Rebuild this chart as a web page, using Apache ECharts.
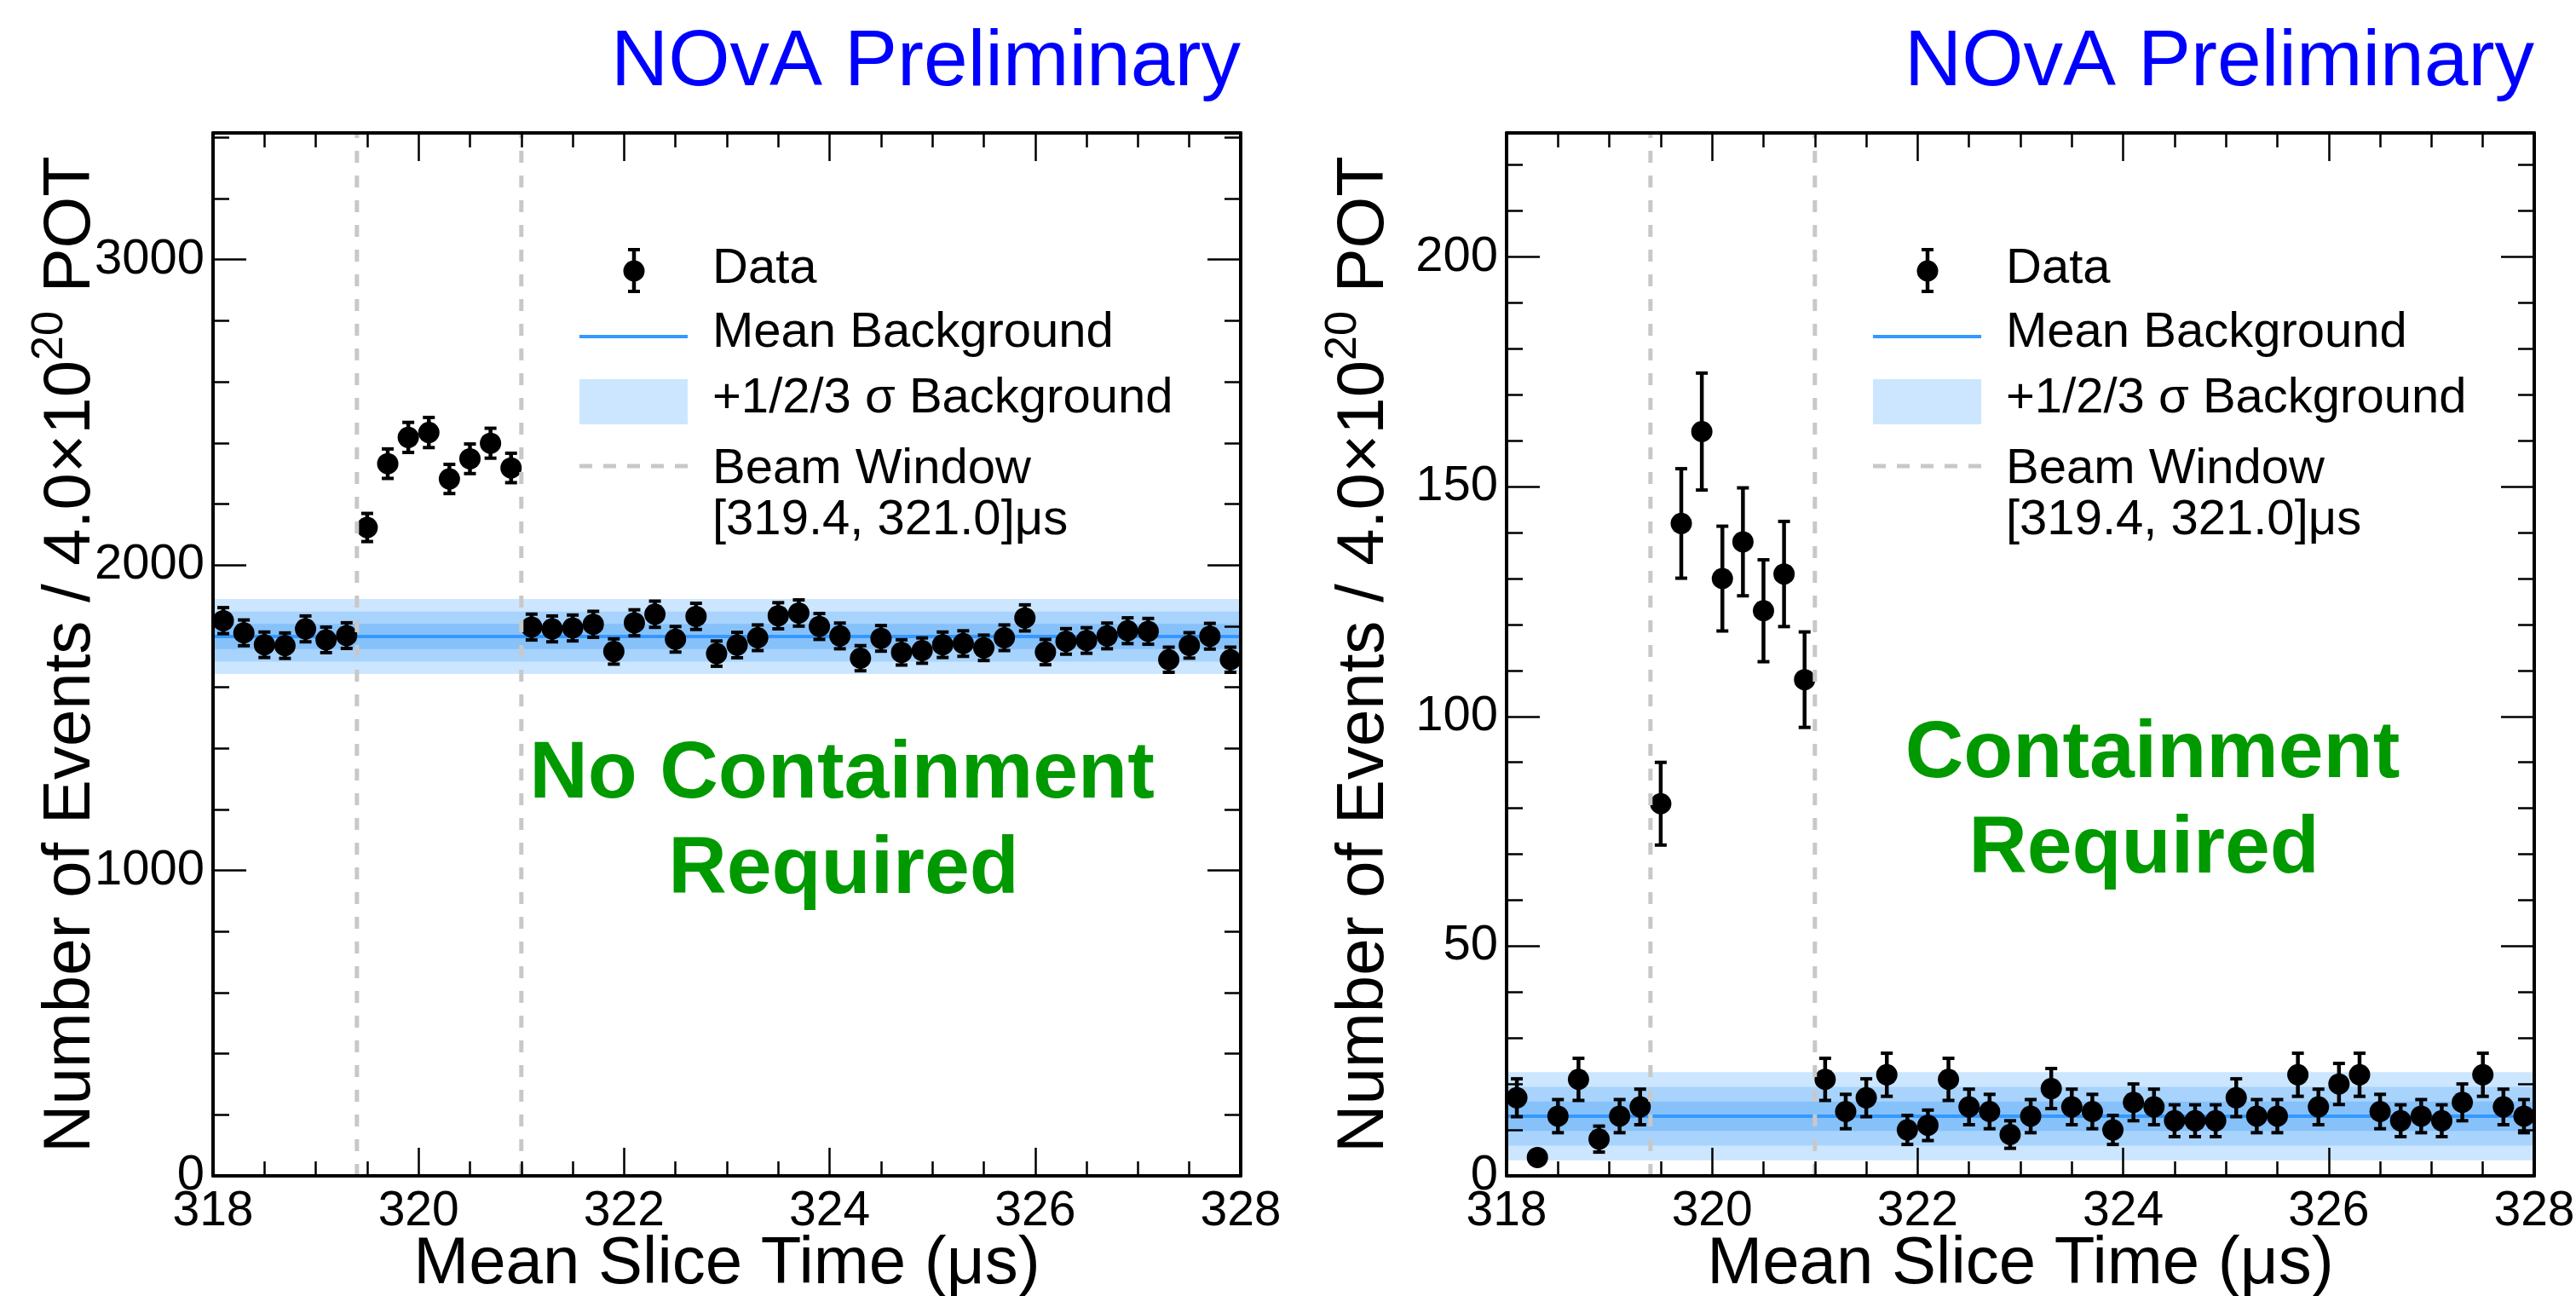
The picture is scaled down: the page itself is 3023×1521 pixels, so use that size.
<!DOCTYPE html>
<html>
<head>
<meta charset="utf-8">
<title>Mean Slice Time</title>
<script src="https://cdn.jsdelivr.net/npm/echarts@6/dist/echarts.min.js"></script>
<style>html,body{margin:0;padding:0;background:#fff;}</style>
</head>
<body>
<div id="main" style="width:3023px;height:1521px;"></div>
<script>
// bin centres (0.2 us bins)
var timeBins = [318.1, 318.3, 318.5, 318.7, 318.9, 319.1, 319.3, 319.5, 319.7, 319.9,
                320.1, 320.3, 320.5, 320.7, 320.9, 321.1, 321.3, 321.5, 321.7, 321.9,
                322.1, 322.3, 322.5, 322.7, 322.9, 323.1, 323.3, 323.5, 323.7, 323.9,
                324.1, 324.3, 324.5, 324.7, 324.9, 325.1, 325.3, 325.5, 325.7, 325.9,
                326.1, 326.3, 326.5, 326.7, 326.9, 327.1, 327.3, 327.5, 327.7, 327.9];

// left panel: no containment
var countsNoContain = [1818, 1778, 1739, 1736, 1791, 1755, 1769, 2123, 2332, 2418,
                       2434, 2282, 2348, 2399, 2318, 1797, 1791, 1794, 1806, 1717,
                       1811, 1839, 1757, 1832, 1710, 1738, 1762, 1834, 1843, 1799,
                       1768, 1695, 1760, 1714, 1720, 1739, 1743, 1729, 1762, 1827,
                       1715, 1750, 1753, 1768, 1785, 1783, 1690, 1737, 1767, 1690];

// right panel: containment
var countsContain = [17, 4, 13, 21, 8, 13, 15, 81, 142, 162,
                     130, 138, 123, 131, 108, 21, 14, 17, 22, 10,
                     11, 21, 15, 14, 9, 13, 19, 15, 14, 10,
                     16, 15, 12, 12, 12, 17, 13, 13, 22, 15,
                     20, 22, 14, 12, 13, 12, 16, 22, 15, 13];

var bkgMean = [1766, 13];
var bkgSigma = [41, 3.2];
var beamWindow = [319.4, 321.0];

var xTicks = {min: 318, max: 328, major: 2};
var yTicksLeft = {max: 3415, major: 1000, minor: 200};
var yTicksRight = {max: 227, major: 50, minor: 10};

var FONT = 'Liberation Sans';
var bandColors = {3: '#cce6ff', 2: '#a8d3fd', 1: '#87c1fa'};

var myChart = echarts.init(document.getElementById('main'));

function xAxes(gi) {
    var tick = {inside: true, length: 33, lineStyle: {color: '#000', width: 2.5}};
    var minor = {show: true, splitNumber: 4, length: 17, lineStyle: {color: '#000', width: 2.5}};
    var line = {onZero: false, lineStyle: {color: '#000', width: 4}};
    return [{
        gridIndex: gi, type: 'value', position: 'bottom', z: 10,
        min: xTicks.min, max: xTicks.max, interval: xTicks.major,
        axisLine: line, axisTick: tick, minorTick: minor,
        splitLine: {show: false},
        axisLabel: {fontSize: 57, fontFamily: FONT, color: '#000', margin: 14},
        name: 'Mean Slice Time (\u03bcs)', nameLocation: 'middle', nameGap: 62, nameMoveOverlap: false,
        nameTextStyle: {fontSize: 78, lineHeight: 84, fontFamily: FONT, color: '#000'}
    }, {
        gridIndex: gi, type: 'value', position: 'top', z: 10,
        min: xTicks.min, max: xTicks.max, interval: xTicks.major,
        axisLine: line, axisTick: tick, minorTick: minor,
        splitLine: {show: false}, axisLabel: {show: false}
    }];
}

function yAxes(gi, t) {
    var line = {onZero: false, lineStyle: {color: '#000', width: 4}};
    var tickMinor = {inside: true, length: 19, lineStyle: {color: '#000', width: 2.5}};
    var tickMajor = {inside: true, length: 39, lineStyle: {color: '#000', width: 2.5}};
    var base = {gridIndex: gi, type: 'value', min: 0, max: t.max, z: 10, splitLine: {show: false}};
    return [
        Object.assign({}, base, {
            position: 'left', interval: t.minor, axisLine: line, axisTick: tickMinor,
            axisLabel: {
                fontSize: 58, fontFamily: FONT, color: '#000', margin: 10,
                formatter: function (v) { return v % t.major === 0 ? String(v) : ''; }
            },
            name: 'Number of Events / 4.0\u00d710{sup|20} POT',
            nameLocation: 'middle', nameRotate: 90, nameGap: 117, nameMoveOverlap: false,
            nameTextStyle: {
                fontSize: 78, lineHeight: 100, fontFamily: FONT, color: '#000',
                rich: {sup: {fontSize: 52, lineHeight: 52, verticalAlign: 'top', fontFamily: FONT, color: '#000'}}
            }
        }),
        Object.assign({}, base, {position: 'left', interval: t.major, axisLine: {show: false}, axisTick: tickMajor, axisLabel: {show: false}}),
        Object.assign({}, base, {position: 'right', interval: t.minor, axisLine: line, axisTick: tickMinor, axisLabel: {show: false}}),
        Object.assign({}, base, {position: 'right', interval: t.major, axisLine: {show: false}, axisTick: tickMajor, axisLabel: {show: false}})
    ];
}

function renderPoints(params, api) {
    var x = api.value(0), y = api.value(1), err = Math.sqrt(y);
    var c = api.coord([x, y]);
    var hi = api.coord([x, y + err]);
    var lo = api.coord([x, y - err]);
    var r = 12.5;
    var kids = [];
    if (lo[1] - c[1] > r) {
        kids.push({type: 'line', shape: {x1: c[0], y1: hi[1], x2: c[0], y2: lo[1]}, style: {stroke: '#000', lineWidth: 4.5}});
        kids.push({type: 'rect', shape: {x: c[0] - 7, y: hi[1] - 2, width: 14, height: 4}, style: {fill: '#000'}});
        kids.push({type: 'rect', shape: {x: c[0] - 7, y: lo[1] - 2, width: 14, height: 4}, style: {fill: '#000'}});
    }
    kids.push({type: 'circle', shape: {cx: c[0], cy: c[1], r: r}, style: {fill: '#000'}});
    return {type: 'group', children: kids};
}

function bandSeries(xi, yi, p) {
    return {
        type: 'custom', xAxisIndex: xi, yAxisIndex: yi, z: 1, silent: true,
        data: [[3], [2], [1]],
        renderItem: function (params, api) {
            var k = api.value(0);
            var top = api.coord([xTicks.min, bkgMean[p] + k * bkgSigma[p]]);
            var bot = api.coord([xTicks.max, bkgMean[p] - k * bkgSigma[p]]);
            return {type: 'rect', shape: {x: top[0], y: top[1], width: bot[0] - top[0], height: bot[1] - top[1]},
                    style: {fill: bandColors[k]}};
        }
    };
}

function panelSeries(xi, yi, p, counts) {
    return [
        bandSeries(xi, yi, p),
        {
            type: 'line', xAxisIndex: xi, yAxisIndex: yi, z: 2, symbol: 'none', silent: true,
            data: [[xTicks.min, bkgMean[p]], [xTicks.max, bkgMean[p]]],
            lineStyle: {color: '#3399ff', width: 4}
        },
        {
            type: 'custom', xAxisIndex: xi, yAxisIndex: yi, z: 3,
            data: timeBins.map(function (t, i) { return [t, counts[i]]; }),
            renderItem: renderPoints
        },
        {
            type: 'custom', xAxisIndex: xi, yAxisIndex: yi, z: 4, silent: true,
            data: beamWindow.map(function (b) { return [b]; }),
            renderItem: function (params, api) {
                var cs = params.coordSys;
                var px = api.coord([api.value(0), 0])[0];
                return {type: 'line', shape: {x1: px, y1: cs.y + cs.height, x2: px, y2: cs.y},
                        style: {stroke: '#c8c8c8', lineWidth: 5, lineDash: [14, 15]}};
            }
        }
    ];
}

function legendGraphics(dx) {
    var tx = 836 + dx;
    var font = '58px "' + FONT + '"';
    function txt(s, y) {
        return {type: 'text', z: 20, style: {text: s, x: tx, y: y, font: font, fill: '#000', align: 'left', verticalAlign: 'middle'}};
    }
    return [
        {type: 'line', z: 20, shape: {x1: 744 + dx, y1: 293, x2: 744 + dx, y2: 342}, style: {stroke: '#000', lineWidth: 4.5}},
        {type: 'rect', z: 20, shape: {x: 737 + dx, y: 291, width: 14, height: 4}, style: {fill: '#000'}},
        {type: 'rect', z: 20, shape: {x: 737 + dx, y: 340, width: 14, height: 4}, style: {fill: '#000'}},
        {type: 'circle', z: 20, shape: {cx: 744 + dx, cy: 318, r: 12.5}, style: {fill: '#000'}},
        {type: 'line', z: 20, shape: {x1: 680 + dx, y1: 395, x2: 807 + dx, y2: 395}, style: {stroke: '#3399ff', lineWidth: 4}},
        {type: 'rect', z: 20, shape: {x: 680 + dx, y: 445, width: 127, height: 53}, style: {fill: bandColors[3]}},
        {type: 'line', z: 20, shape: {x1: 680 + dx, y1: 547, x2: 807 + dx, y2: 547}, style: {stroke: '#c8c8c8', lineWidth: 5, lineDash: [15, 13]}},
        txt('Data', 316),
        txt('Mean Background', 391),
        txt('+1/2/3 \u03c3 Background', 468),
        txt('Beam Window', 551),
        txt('[319.4, 321.0]\u03bcs', 611)
    ];
}

function label(s, x, y, size, color, weight, align) {
    return {type: 'text', z: 20, style: {text: s, x: x, y: y, fill: color,
            font: (weight || 'normal') + ' ' + size + 'px "' + FONT + '"', align: align || 'center', verticalAlign: 'middle'}};
}

myChart.setOption({
    animation: false,
    backgroundColor: '#fff',
    grid: [
        {left: 250, top: 156, width: 1206, height: 1224, outerBoundsMode: 'none'},
        {left: 1768, top: 156, width: 1206, height: 1224, outerBoundsMode: 'none'}
    ],
    xAxis: xAxes(0).concat(xAxes(1)),
    yAxis: yAxes(0, yTicksLeft).concat(yAxes(1, yTicksRight)),
    series: panelSeries(0, 0, 0, countsNoContain).concat(panelSeries(2, 4, 1, countsContain)),
    graphic: legendGraphics(0).concat(legendGraphics(1518)).concat([
        label('NOvA Preliminary', 1456, 74, 93, '#0000ff', 'normal', 'right'),
        label('NOvA Preliminary', 2974, 74, 93, '#0000ff', 'normal', 'right'),
        label('No Containment', 988, 910, 95, '#009900', 'bold'),
        label('Required', 990, 1022, 95, '#009900', 'bold'),
        label('Containment', 2526, 886, 95, '#009900', 'bold'),
        label('Required', 2516, 998, 95, '#009900', 'bold')
    ])
});
</script>
</body>
</html>
